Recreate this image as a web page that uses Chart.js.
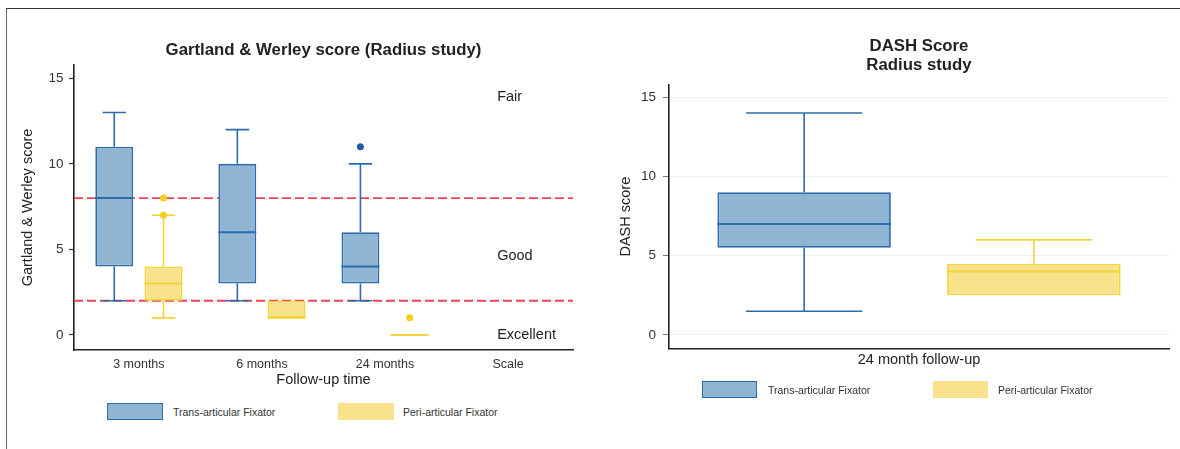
<!DOCTYPE html>
<html>
<head>
<meta charset="utf-8">
<title>Radius study scores</title>
<script src="https://cdn.jsdelivr.net/npm/chart.js@4.4.1/dist/chart.umd.min.js"></script>
<style>
  html, body { margin: 0; padding: 0; background: #fff; }
  body {
    width: 1180px;
    height: 449px;
    position: relative;
    overflow: hidden;
    font-family: 'Liberation Sans', Arial, sans-serif;
  }
  .frame {
    position: absolute;
    left: 6px;
    top: 8px;
    right: 0;
    bottom: 0;
    border-top: 1.5px solid #333;
    border-left: 1px solid #666;
  }
  canvas { position: absolute; top: 20px; }
  #gartlandChart { left: 0; }
  #dashChart { left: 600px; }
  .swatch { position: absolute; box-sizing: border-box; }
  .swatch.trans { background: #8fb5d2; border: 1.5px solid #2c6caa; }
  .swatch.peri { background: #f8e38c; border: 1px solid #f8e08a; }
  .legend-text {
    position: absolute;
    font-size: 10.5px;
    color: #333;
    line-height: 12px;
    white-space: nowrap;
  }
</style>
</head>
<body>
<div class="frame"></div>
<canvas id="gartlandChart" width="600" height="380"></canvas>
<canvas id="dashChart" width="580" height="380"></canvas>

<div class="swatch trans" style="left:107px; top:403px; width:56px; height:17px;"></div>
<div class="legend-text" style="left:173px; top:405.5px;">Trans-articular Fixator</div>
<div class="swatch peri" style="left:338px; top:403px; width:56px; height:17px;"></div>
<div class="legend-text" style="left:403px; top:405.5px;">Peri-articular Fixator</div>

<div class="swatch trans" style="left:702px; top:381px; width:55px; height:17px;"></div>
<div class="legend-text" style="left:768px; top:383.5px;">Trans-articular Fixator</div>
<div class="swatch peri" style="left:933px; top:381px; width:55px; height:17px;"></div>
<div class="legend-text" style="left:998px; top:383.5px;">Peri-articular Fixator</div>

<script>
// --- Gartland & Werley (left panel) ---
const followUps = ['3 months', '6 months', '24 months', 'Scale'];
const followUpTicks = [0, 1, 2, 3];

const transLow = [2, 2, 2];
const transQ1 = [4, 3, 3];
const transMedian = [8, 6, 4];
const transQ3 = [11, 10, 6];
const transHigh = [13, 12, 10];
const transOutliers = [[], [], [11]];

const periLow = [1, 1, 0];
const periQ1 = [2, 1, 0];
const periMedian = [3, 1, 0];
const periQ3 = [4, 2, 0];
const periHigh = [7, 2, 0];
const periOutliers = [[7, 8], [], [1]];

const gradeCutoffs = [2, 8];
const gradeLabels = ['Fair', 'Good', 'Excellent'];
const gradeLabelValues = [13.9, 4.6, 0];

const gartlandTicks = [0, 5, 10, 15];

// --- DASH (right panel) ---
const dashGroups = ['24 month follow-up'];
const dashTransLow = [1.5];
const dashTransQ1 = [5.5];
const dashTransMedian = [7];
const dashTransQ3 = [9];
const dashTransHigh = [14];
const dashPeriLow = [2.5];
const dashPeriQ1 = [2.5];
const dashPeriMedian = [4];
const dashPeriQ3 = [4.5];
const dashPeriHigh = [6];

const dashTicks = [0, 5, 10, 15];

const BLUE_FILL = '#8fb5d2';
const BLUE_LINE = '#2c6caa';
const BLUE_POINT = '#1d5fa5';
const YELLOW_FILL = '#f8e38c';
const YELLOW_LINE = '#f6d237';
const YELLOW_POINT = '#f5cd1f';
const FONT = "'Liberation Sans', Arial, sans-serif";

Chart.defaults.font.family = FONT;
Chart.defaults.color = '#333';

// whiskers + caps go under the boxes, medians + outliers on top
const boxplotPlugin = {
  id: 'boxplot',
  beforeDatasetsDraw(chart) {
    const { ctx } = chart;
    const yScale = chart.scales.y;
    chart.data.datasets.forEach((dataset, di) => {
      const stats = dataset.stats;
      chart.getDatasetMeta(di).data.forEach((bar, i) => {
        const range = dataset.data[i].y || dataset.data[i];
        const q1 = yScale.getPixelForValue(range[0]);
        const q3 = yScale.getPixelForValue(range[1]);
        const low = yScale.getPixelForValue(stats.low[i]);
        const high = yScale.getPixelForValue(stats.high[i]);
        const capHalf = bar.width * stats.capRatio / 2;
        ctx.save();
        ctx.strokeStyle = dataset.borderColor;
        ctx.lineWidth = 1.6;
        ctx.beginPath();
        if (Math.abs(high - q3) > 0.5) {
          ctx.moveTo(bar.x, q3);
          ctx.lineTo(bar.x, high);
          ctx.moveTo(bar.x - capHalf, high);
          ctx.lineTo(bar.x + capHalf, high);
        }
        if (Math.abs(low - q1) > 0.5) {
          ctx.moveTo(bar.x, q1);
          ctx.lineTo(bar.x, low);
          ctx.moveTo(bar.x - capHalf, low);
          ctx.lineTo(bar.x + capHalf, low);
        }
        ctx.stroke();
        ctx.restore();
      });
    });
  },
  afterDatasetsDraw(chart) {
    const { ctx } = chart;
    const yScale = chart.scales.y;
    chart.data.datasets.forEach((dataset, di) => {
      const stats = dataset.stats;
      chart.getDatasetMeta(di).data.forEach((bar, i) => {
        const med = yScale.getPixelForValue(stats.median[i]);
        ctx.save();
        ctx.strokeStyle = dataset.borderColor;
        ctx.lineWidth = 2;
        ctx.beginPath();
        ctx.moveTo(bar.x - bar.width / 2, med);
        ctx.lineTo(bar.x + bar.width / 2, med);
        ctx.stroke();
        (stats.outliers ? stats.outliers[i] : []).forEach(value => {
          ctx.fillStyle = stats.pointColor;
          ctx.beginPath();
          ctx.arc(bar.x, yScale.getPixelForValue(value), 3.5, 0, Math.PI * 2);
          ctx.fill();
        });
        ctx.restore();
      });
    });
  },
};

const gradePlugin = {
  id: 'gradeScale',
  beforeDatasetsDraw(chart) {
    const { ctx, chartArea } = chart;
    const yScale = chart.scales.y;
    ctx.save();
    ctx.strokeStyle = '#ee4456';
    ctx.lineWidth = 1.8;
    ctx.setLineDash([9, 4]);
    gradeCutoffs.forEach(value => {
      const y = yScale.getPixelForValue(value);
      ctx.beginPath();
      ctx.moveTo(chartArea.left, y);
      ctx.lineTo(chartArea.right, y);
      ctx.stroke();
    });
    ctx.restore();
  },
  afterDatasetsDraw(chart) {
    const { ctx } = chart;
    const x = chart.scales.x.getPixelForValue(followUpTicks[3]) - 11;
    ctx.save();
    ctx.fillStyle = '#222';
    ctx.font = `14.5px ${FONT}`;
    ctx.textAlign = 'left';
    ctx.textBaseline = 'middle';
    gradeLabels.forEach((label, i) => {
      ctx.fillText(label, x, chart.scales.y.getPixelForValue(gradeLabelValues[i]));
    });
    ctx.restore();
  },
};

function boxDataset(label, q1, q3, stats, fill, line) {
  return {
    label,
    data: q1.map((value, i) => ({ x: i, y: [value, q3[i]] })),
    backgroundColor: fill,
    borderColor: line,
    borderWidth: 1.8,
    borderSkipped: false,
    stats,
  };
}

new Chart(document.getElementById('gartlandChart'), {
  type: 'bar',
  data: {
    datasets: [
      boxDataset('Trans-articular Fixator', transQ1, transQ3, {
        low: transLow, median: transMedian, high: transHigh, outliers: transOutliers,
        capRatio: 0.62, pointColor: BLUE_POINT,
      }, BLUE_FILL, BLUE_LINE),
      boxDataset('Peri-articular Fixator', periQ1, periQ3, {
        low: periLow, median: periMedian, high: periHigh, outliers: periOutliers,
        capRatio: 0.62, pointColor: YELLOW_POINT,
      }, YELLOW_FILL, YELLOW_LINE),
    ],
  },
  options: {
    responsive: false,
    animation: false,
    categoryPercentage: 0.8,
    barPercentage: 0.77,
    layout: { padding: { left: 0, right: 27, top: 0, bottom: 0 } },
    plugins: {
      legend: { display: false },
      tooltip: { enabled: false },
      title: {
        display: true,
        fullSize: false,
        text: 'Gartland & Werley score (Radius study)',
        color: '#222',
        font: { size: 16.8, weight: 'bold', lineHeight: 1.2 },
        padding: { top: 19.9, bottom: 4.9 },
      },
    },
    scales: {
      x: {
        type: 'linear',
        offset: false,
        min: -0.527,
        max: 3.527,
        afterBuildTicks: scale => { scale.ticks = followUpTicks.map(value => ({ value })); },
        afterFit: scale => { scale.height = 50; },
        grid: { display: false, drawTicks: false, offset: false },
        border: { display: true, color: '#222', width: 1.6 },
        ticks: {
          autoSkip: false,
          maxRotation: 0,
          padding: 7.5,
          color: '#333',
          font: { size: 12.5 },
          callback: value => followUps[value],
        },
        title: {
          display: true,
          text: 'Follow-up time',
          color: '#222',
          font: { size: 14.5 },
          padding: { top: 0, bottom: 11.3 },
        },
      },
      y: {
        min: -0.88,
        max: 15.78,
        afterBuildTicks: scale => { scale.ticks = gartlandTicks.map(value => ({ value })); },
        afterFit: scale => { scale.width = 74; },
        grid: { display: true, drawOnChartArea: false, drawTicks: true, tickLength: 5, tickColor: '#333', tickWidth: 1.2 },
        border: { display: true, color: '#222', width: 1.6 },
        ticks: { padding: 5.5, color: '#333', font: { size: 13.5 } },
        title: {
          display: true,
          text: 'Gartland & Werley score',
          color: '#222',
          font: { size: 14.5 },
          padding: { top: 19.3, bottom: 0 },
        },
      },
    },
  },
  plugins: [gradePlugin, boxplotPlugin],
});

new Chart(document.getElementById('dashChart'), {
  type: 'bar',
  data: {
    labels: dashGroups,
    datasets: [
      {
        label: 'Trans-articular Fixator',
        data: dashTransQ1.map((value, i) => [value, dashTransQ3[i]]),
        backgroundColor: BLUE_FILL,
        borderColor: BLUE_LINE,
        borderWidth: 1.8,
        borderSkipped: false,
        stats: { low: dashTransLow, median: dashTransMedian, high: dashTransHigh, capRatio: 0.67, pointColor: BLUE_POINT },
      },
      {
        label: 'Peri-articular Fixator',
        data: dashPeriQ1.map((value, i) => [value, dashPeriQ3[i]]),
        backgroundColor: YELLOW_FILL,
        borderColor: YELLOW_LINE,
        borderWidth: 1.8,
        borderSkipped: false,
        stats: { low: dashPeriLow, median: dashPeriMedian, high: dashPeriHigh, capRatio: 0.67, pointColor: YELLOW_POINT },
      },
    ],
  },
  options: {
    responsive: false,
    animation: false,
    categoryPercentage: 0.919,
    barPercentage: 0.755,
    layout: { padding: { left: 0, right: 11, top: 0, bottom: 0 } },
    plugins: {
      legend: { display: false },
      tooltip: { enabled: false },
      title: {
        display: true,
        fullSize: false,
        text: ['DASH Score', 'Radius study'],
        color: '#222',
        font: { size: 16.8, weight: 'bold', lineHeight: 1.131 },
        padding: { top: 17.2, bottom: 9.8 },
      },
    },
    scales: {
      x: {
        afterFit: scale => { scale.height = 51.7; },
        grid: { display: false, drawTicks: false },
        border: { display: true, color: '#222', width: 1.6 },
        ticks: { padding: 3, color: '#222', font: { size: 14.5 } },
      },
      y: {
        min: -0.84,
        max: 15.77,
        afterBuildTicks: scale => { scale.ticks = dashTicks.map(value => ({ value })); },
        afterFit: scale => { scale.width = 69; },
        grid: { color: '#ebf2f2', lineWidth: 1, drawTicks: true, tickLength: 6, tickColor: '#777' },
        border: { display: true, color: '#222', width: 1.6 },
        ticks: { padding: 7, color: '#333', font: { size: 13.5 } },
        title: {
          display: true,
          text: 'DASH score',
          color: '#222',
          font: { size: 14.5 },
          padding: { top: 17.3, bottom: 0 },
        },
      },
    },
  },
  plugins: [boxplotPlugin],
});
</script>
</body>
</html>
